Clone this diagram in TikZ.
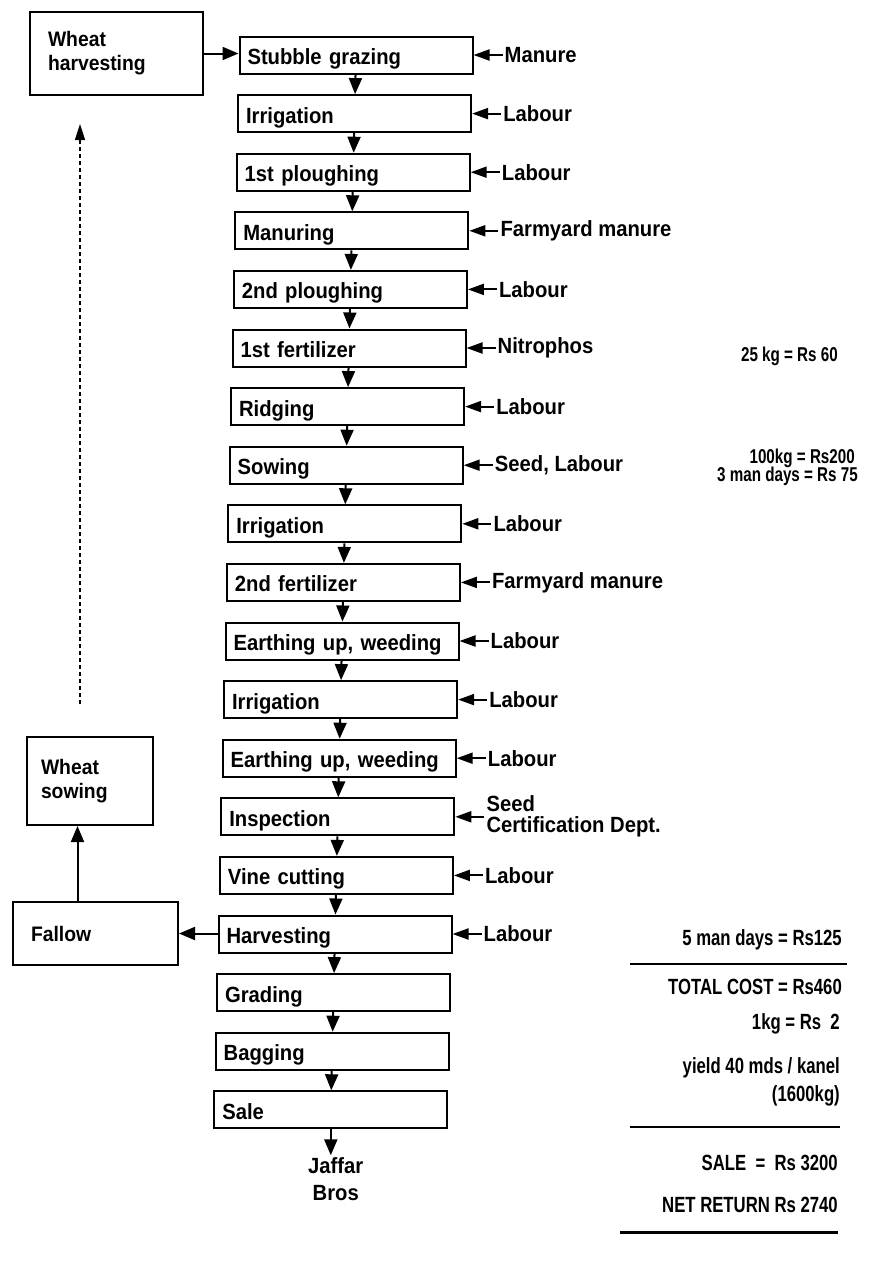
\documentclass[tikz,border=0pt]{standalone}
\usepackage{fontspec}
\setmainfont{Liberation Sans}[FakeStretch=0.92]
\newfontfamily\costfont{Liberation Sans}[FakeStretch=0.76]
\usetikzlibrary{positioning,arrows.meta}

\begin{document}
\begin{tikzpicture}[x=1pt, y=-1pt,
    stage/.style = {draw, line width=2pt, minimum width=233pt, minimum height=37pt, text width=217pt,
                    text height=21pt, text depth=2pt,
                    inner xsep=8pt, inner ysep=2pt, align=left, font=\bfseries\fontsize{22}{24}\selectfont},
    supply/.style = {align=left, inner sep=2pt, font=\bfseries\fontsize{22}{22}\selectfont},
    fieldbox/.style = {draw, line width=2pt, align=left, font=\bfseries\fontsize{21}{24}\selectfont},
    cost/.style = {anchor=east, inner sep=0pt, font=\costfont\bfseries\fontsize{22}{24}\selectfont},
    smallcost/.style = {cost, font=\costfont\bfseries\fontsize{20}{22}\selectfont},
    flow/.style = {line width=2pt, -{Triangle[length=16pt, width=13pt]}},
    feed/.style = {line width=2pt, -{Triangle[length=16pt, width=11pt]}},
    backflow/.style = {line width=1.6pt, dash pattern=on 4pt off 3pt, -{Triangle[length=16pt, width=10pt]}}]

    \useasboundingbox (0,0) rectangle (873,1266);

    % main sequence of operations
    \node[stage] (graze) at (356,55) {Stubble grazing};
    \node[stage] (irr1) [below of=graze, node distance=58.6pt, xshift=-1.4pt] {Irrigation};
    \node[stage] (plough1) [below of=irr1, node distance=58.6pt, xshift=-1.4pt] {1st ploughing};
    \node[stage] (manuring) [below of=plough1, node distance=58.6pt, xshift=-1.4pt] {Manuring};
    \node[stage] (plough2) [below of=manuring, node distance=58.6pt, xshift=-1.4pt] {2nd ploughing};
    \node[stage] (fert1) [below of=plough2, node distance=58.6pt, xshift=-1.4pt] {1st fertilizer};
    \node[stage] (ridging) [below of=fert1, node distance=58.6pt, xshift=-1.4pt] {Ridging};
    \node[stage] (sowing) [below of=ridging, node distance=58.6pt, xshift=-1.4pt] {Sowing};
    \node[stage] (irr2) [below of=sowing, node distance=58.6pt, xshift=-1.4pt] {Irrigation};
    \node[stage] (fert2) [below of=irr2, node distance=58.6pt, xshift=-1.4pt] {2nd fertilizer};
    \node[stage] (earth1) [below of=fert2, node distance=58.6pt, xshift=-1.4pt] {Earthing up, weeding};
    \node[stage] (irr3) [below of=earth1, node distance=58.6pt, xshift=-1.4pt] {Irrigation};
    \node[stage] (earth2) [below of=irr3, node distance=58.6pt, xshift=-1.4pt] {Earthing up, weeding};
    \node[stage] (inspect) [below of=earth2, node distance=58.6pt, xshift=-1.4pt] {Inspection};
    \node[stage] (vine) [below of=inspect, node distance=58.6pt, xshift=-1.4pt] {Vine cutting};
    \node[stage] (harvest) [below of=vine, node distance=58.6pt, xshift=-1.4pt] {Harvesting};
    \node[stage] (grading) [below of=harvest, node distance=58.6pt, xshift=-1.4pt] {Grading};
    \node[stage] (bagging) [below of=grading, node distance=58.6pt, xshift=-1.4pt] {Bagging};
    \node[stage] (sale) [below of=bagging, node distance=58.6pt, xshift=-1.4pt] {Sale};
    \node[supply, align=center] (buyer) [below=26pt of sale, xshift=5pt, font=\bfseries\fontsize{22}{27}\selectfont] {Jaffar\\Bros};

    \draw[flow] (graze) -- (irr1);
    \draw[flow] (irr1) -- (plough1);
    \draw[flow] (plough1) -- (manuring);
    \draw[flow] (manuring) -- (plough2);
    \draw[flow] (plough2) -- (fert1);
    \draw[flow] (fert1) -- (ridging);
    \draw[flow] (ridging) -- (sowing);
    \draw[flow] (sowing) -- (irr2);
    \draw[flow] (irr2) -- (fert2);
    \draw[flow] (fert2) -- (earth1);
    \draw[flow] (earth1) -- (irr3);
    \draw[flow] (irr3) -- (earth2);
    \draw[flow] (earth2) -- (inspect);
    \draw[flow] (inspect) -- (vine);
    \draw[flow] (vine) -- (harvest);
    \draw[flow] (harvest) -- (grading);
    \draw[flow] (grading) -- (bagging);
    \draw[flow] (bagging) -- (sale);
    \draw[flow] (sale.south) -- (sale.south |- buyer.north);

    % inputs
    \node[supply] (graze-in) [right=29pt of graze] {Manure};
    \node[supply] (irr1-in) [right=29pt of irr1] {Labour};
    \node[supply] (plough1-in) [right=29pt of plough1] {Labour};
    \node[supply] (manuring-in) [right=29pt of manuring] {Farmyard manure};
    \node[supply] (plough2-in) [right=29pt of plough2] {Labour};
    \node[supply] (fert1-in) [right=29pt of fert1] {Nitrophos};
    \node[supply] (ridging-in) [right=29pt of ridging] {Labour};
    \node[supply] (sowing-in) [right=29pt of sowing] {Seed, Labour};
    \node[supply] (irr2-in) [right=29pt of irr2] {Labour};
    \node[supply] (fert2-in) [right=29pt of fert2] {Farmyard manure};
    \node[supply] (earth1-in) [right=29pt of earth1] {Labour};
    \node[supply] (irr3-in) [right=29pt of irr3] {Labour};
    \node[supply] (earth2-in) [right=29pt of earth2] {Labour};
    \node[supply] (inspect-in) [right=29pt of inspect, font=\bfseries\fontsize{22}{21}\selectfont] {Seed\\Certification Dept.};
    \node[supply] (vine-in) [right=29pt of vine] {Labour};
    \node[supply] (harvest-in) [right=29pt of harvest] {Labour};

    \draw[feed] (graze-in) -- (graze);
    \draw[feed] (irr1-in) -- (irr1);
    \draw[feed] (plough1-in) -- (plough1);
    \draw[feed] (manuring-in) -- (manuring);
    \draw[feed] (plough2-in) -- (plough2);
    \draw[feed] (fert1-in) -- (fert1);
    \draw[feed] (ridging-in) -- (ridging);
    \draw[feed] (sowing-in) -- (sowing);
    \draw[feed] (irr2-in) -- (irr2);
    \draw[feed] (fert2-in) -- (fert2);
    \draw[feed] (earth1-in) -- (earth1);
    \draw[feed] (irr3-in) -- (irr3);
    \draw[feed] (earth2-in) -- (earth2);
    \draw[feed] (inspect-in) -- (inspect);
    \draw[feed] (vine-in) -- (vine);
    \draw[feed] (harvest-in) -- (harvest);

    % wheat rotation
    \node[fieldbox, text width=137pt, minimum height=83pt, inner xsep=18pt] (wharv) at (116.5,53.5) {Wheat\\harvesting};
    \node[fieldbox, text width=98pt, minimum height=88pt, inner xsep=14pt] (wsow) at (90,781) {Wheat\\sowing};
    \node[fieldbox, text width=129pt, minimum height=63pt, inner xsep=18pt] (fallow) at (95.5,933.5) {Fallow};

    \draw[flow] (wharv.east) -- (graze.west |- wharv.east);
    \draw[flow] (harvest.west |- fallow.east) -- (fallow.east);
    \draw[flow] ([xshift=-18pt]fallow.north) -- ([xshift=-18pt]fallow.north |- wsow.south);
    \draw[backflow, shorten <=32pt, shorten >=28pt] ([xshift=-10pt]wsow.north) -- ([xshift=-10pt]wsow.north |- wharv.south);

    % costs and returns
    \node[smallcost] (fertcost) at (838,356) {25 kg = Rs 60};
    \node[smallcost] (seedcost) at (855,458) {100kg = Rs200};
    \node[smallcost] (sowcost) at (858,476) {3 man days = Rs 75};
    \node[cost] (harvcost) at (842,940) {5 man days = Rs125};
    \node[cost] (total) at (842,987) {TOTAL COST = Rs460};
    \node[cost] (price) at (840,1024) {1kg = Rs\ \ 2};
    \node[cost] (yield) at (840,1068) {yield 40 mds / kanel};
    \node[cost] (yieldkg) at (840,1096) {(1600kg)};
    \node[cost] (salesum) at (838,1163) {SALE\ \ =\ \ Rs 3200};
    \node[cost] (net) at (838,1205) {NET RETURN Rs 2740};

    \draw[line width=1.5pt] (630,964) -- (847,964);
    \draw[line width=1.5pt] (630,1127) -- (840,1127);
    \draw[line width=3pt] (620,1232) -- (838,1232);

\end{tikzpicture}
\end{document}
